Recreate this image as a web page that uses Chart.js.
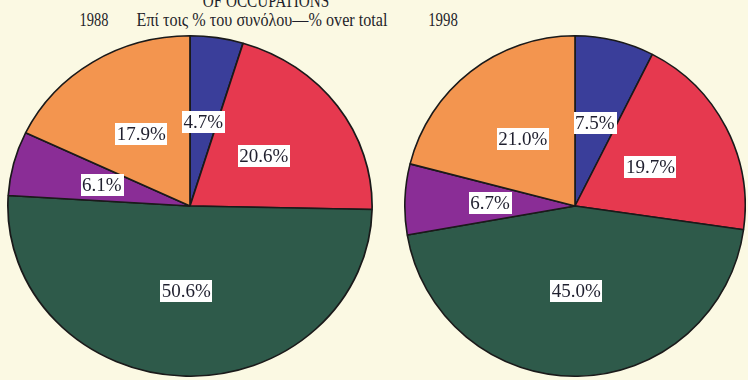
<!DOCTYPE html>
<html>
<head>
<meta charset="utf-8">
<script src="https://cdn.jsdelivr.net/npm/chart.js@4"></script>
<style>
  html, body { margin: 0; padding: 0; background: #fbf9e3; width: 748px; height: 380px; overflow: hidden; }
  .wrap { position: relative; width: 748px; height: 380px; font-family: 'Liberation Serif', 'Times New Roman', Tinos, 'DejaVu Serif', serif; color: #1f1f2a; }
  .t { position: absolute; white-space: nowrap; font-size: 19px; line-height: 1; }
  canvas { position: absolute; }
</style>
</head>
<body>
<div class="wrap">
  <div class="t" style="left:266px; top:-9px; transform:translateX(-50%) scaleX(0.8);">OF OCCUPATIONS</div>
  <div class="t" style="left:94px; top:10px; transform:translateX(-50%) scaleX(0.76);">1988</div>
  <div class="t" style="left:262px; top:10px; transform:translateX(-50%) scaleX(0.85);">Επί τοις % του συνόλου—% over total</div>
  <div class="t" style="left:443px; top:10px; transform:translateX(-50%) scaleX(0.78);">1998</div>
  <canvas id="pie1988" width="366" height="342" style="left:7px; top:35px;"></canvas>
  <canvas id="pie1998" width="342" height="342" style="left:404px; top:35px;"></canvas>
</div>
<script>
// Occupation groups, clockwise from 12 o'clock
const groups = ['Group A', 'Group B', 'Group C', 'Group D', 'Group E'];
const share1988 = [4.7, 20.6, 50.6, 6.1, 17.9];
const share1998 = [7.5, 19.7, 45.0, 6.7, 21.0];
const groupColors = ['#3a3e9a', '#e6394f', '#2e5a4a', '#8a2d96', '#f3954f'];

const labelFont = "19px 'Liberation Serif', 'Times New Roman', Tinos, 'DejaVu Serif', serif";

// Optional horizontal stretch of the pie plus boxed percentage labels
const pieLabels = {
  id: 'pieLabels',
  beforeDatasetsDraw(chart, args, opts) {
    const sx = opts.sx || 1;
    const ctx = chart.ctx;
    const a = chart.chartArea;
    const cx = (a.left + a.right) / 2;
    ctx.save();
    ctx.translate(cx, 0);
    ctx.scale(sx, 1);
    ctx.translate(-cx, 0);
  },
  afterDatasetsDraw(chart, args, opts) {
    const ctx = chart.ctx;
    ctx.restore();
    const sx = opts.sx || 1;
    const meta = chart.getDatasetMeta(0);
    const values = chart.data.datasets[0].data;
    const cx = meta.data[0].x;
    ctx.save();
    ctx.font = labelFont;
    ctx.textAlign = 'center';
    ctx.textBaseline = 'middle';
    meta.data.forEach((arc, i) => {
      const p = arc.tooltipPosition();
      const x = cx + (p.x - cx) * sx;
      const y = p.y;
      const txt = values[i].toFixed(1) + '%';
      const w = ctx.measureText(txt).width + 3;
      const h = 22;
      ctx.fillStyle = '#ffffff';
      ctx.fillRect(Math.round(x - w / 2), Math.round(y - h / 2), Math.round(w), h);
      ctx.fillStyle = '#1f1f2e';
      ctx.fillText(txt, x, y + 1);
    });
    ctx.restore();
  }
};

function makePie(id, values, sx) {
  return new Chart(document.getElementById(id), {
    type: 'pie',
    data: {
      labels: groups,
      datasets: [{
        data: values,
        backgroundColor: groupColors,
        borderColor: '#1a1a1a',
        borderWidth: 1.6
      }]
    },
    options: {
      responsive: false,
      animation: false,
      layout: { padding: 0 },
      plugins: {
        legend: { display: false },
        tooltip: { enabled: false },
        pieLabels: { sx: sx }
      }
    },
    plugins: [pieLabels]
  });
}

makePie('pie1988', share1988, 1.07);
makePie('pie1998', share1998, 1);
</script>
</body>
</html>
